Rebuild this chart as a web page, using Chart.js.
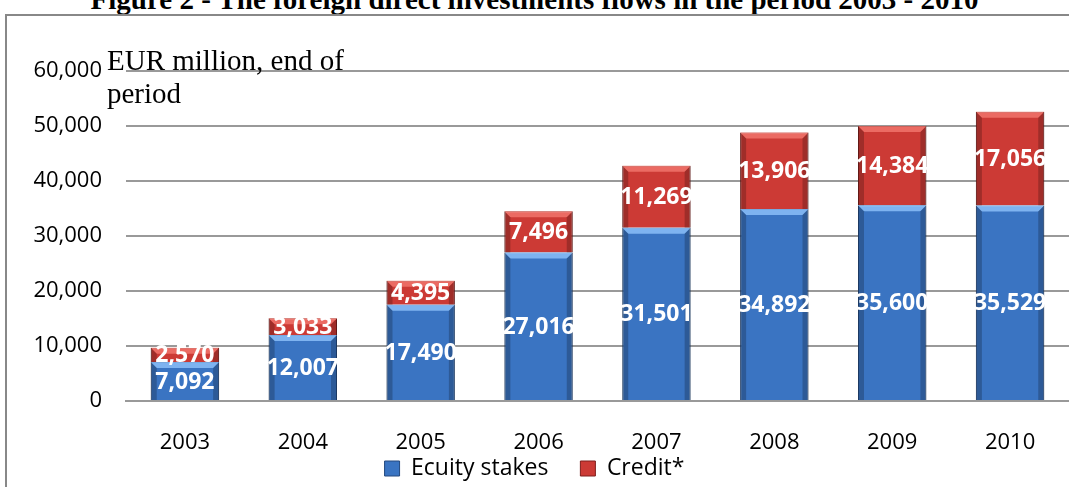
<!DOCTYPE html>
<html>
<head>
<meta charset="utf-8">
<script src="https://cdn.jsdelivr.net/npm/chart.js@4/dist/chart.umd.min.js"></script>
<style>
  body { margin: 0; width: 1069px; height: 487px; overflow: hidden; background: #fff; position: relative; }
  #title { position: absolute; top: -17px; left: 0; width: 1069px; text-align: center;
           font: bold 29px "Liberation Serif", serif; line-height: 32px; color: #000; white-space: nowrap; }
  #frame { position: absolute; left: 5px; top: 14px; width: 1080px; height: 500px;
           border: 2px solid #888; box-sizing: border-box; }
  #unit { position: absolute; left: 107px; top: 44px; font: 29px "Liberation Serif", serif;
          line-height: 33px; color: #000; }
  #wrap { position: absolute; left: 0; top: 0; width: 1069px; height: 487px; }
</style>
</head>
<body>
<div id="title">Figure 2 - The foreign direct investments flows in the period 2003 - 2010</div>
<div id="frame"></div>
<div id="wrap"><canvas id="fdiChart"></canvas></div>
<div id="unit">EUR million, end of<br>period</div>
<script>
const years = ['2003', '2004', '2005', '2006', '2007', '2008', '2009', '2010'];
const equityStakes = [7092, 12007, 17490, 27016, 31501, 34892, 35600, 35529];
const credit = [2570, 3033, 4395, 7496, 11269, 13906, 14384, 17056];
const yTicks = [0, 10000, 20000, 30000, 40000, 50000, 60000];

const fmt = v => v.toLocaleString('en-US');

// bevel look + value labels
const barStyle = {
    id: 'barStyle',
    afterDatasetsDraw(chart) {
        const ctx = chart.ctx;
        chart.data.datasets.forEach((ds, di) => {
            const meta = chart.getDatasetMeta(di);
            meta.data.forEach((bar, i) => {
                const p = bar.getProps(['x', 'y', 'base', 'width'], true);
                const l = p.x - p.width / 2, r = p.x + p.width / 2;
                const t = p.y, b = p.base;
                const e = 6;
                ctx.save();
                ctx.fillStyle = di === 0 ? 'rgba(150,200,255,0.75)' : 'rgba(255,140,130,0.6)';
                ctx.beginPath();
                ctx.moveTo(l, t); ctx.lineTo(r, t); ctx.lineTo(r - e, t + e); ctx.lineTo(l + e, t + e);
                ctx.closePath(); ctx.fill();
                ctx.fillStyle = 'rgba(0,0,0,0.22)';
                ctx.beginPath();
                ctx.moveTo(l, t); ctx.lineTo(l + e, t + e); ctx.lineTo(l + e, b); ctx.lineTo(l, b);
                ctx.closePath(); ctx.fill();
                ctx.beginPath();
                ctx.moveTo(r, t); ctx.lineTo(r - e, t + e); ctx.lineTo(r - e, b); ctx.lineTo(r, b);
                ctx.closePath(); ctx.fill();
                ctx.fillStyle = '#fff';
                ctx.font = 'bold 23px "Open Sans", sans-serif';
                ctx.textAlign = 'center';
                ctx.textBaseline = 'middle';
                ctx.fillText(fmt(ds.data[i]), p.x, (t + b) / 2 + 1);
                ctx.restore();
            });
        });
    }
};

// pull the legend up, closer to the year labels
const legendShift = {
    id: 'legendShift',
    afterLayout(chart) {
        chart.legend.top -= 30;
        chart.legend.bottom -= 30;
    }
};

const ctx = document.getElementById('fdiChart').getContext('2d');
new Chart(ctx, {
    type: 'bar',
    data: {
        labels: years,
        datasets: [{
            label: 'Ecuity stakes',
            data: equityStakes,
            backgroundColor: '#3a74c2',
            borderColor: '#24497e',
            borderWidth: 1,
            categoryPercentage: 1,
            barPercentage: 0.58
        }, {
            label: 'Credit*',
            data: credit,
            backgroundColor: '#cc3a35',
            borderColor: '#7f1f1c',
            borderWidth: 1,
            categoryPercentage: 1,
            barPercentage: 0.58
        }]
    },
    options: {
        responsive: true,
        maintainAspectRatio: false,
        animation: false,
        layout: { padding: { top: 71, right: 0, left: 0, bottom: -33 } },
        scales: {
            x: {
                stacked: true,
                grid: { display: false },
                border: { color: '#999', width: 2 },
                afterFit: scale => { scale.height = 54; },
                ticks: {
                    color: '#000',
                    padding: 21,
                    maxRotation: 0,
                    font: { family: '"Open Sans", sans-serif', size: 22 }
                }
            },
            y: {
                stacked: true,
                min: 0,
                max: 60000,
                afterBuildTicks: scale => { scale.ticks = yTicks.map(v => ({ value: v })); },
                afterFit: scale => { scale.width = 126; },
                grid: { color: '#999', lineWidth: 2, drawTicks: false },
                border: { display: false },
                ticks: {
                    color: '#000',
                    padding: 24,
                    font: { family: '"Open Sans", sans-serif', size: 22 }
                },
            }
        },
        plugins: {
            legend: {
                position: 'bottom',
                labels: {
                    color: '#000',
                    boxWidth: 15,
                    boxHeight: 15,
                    padding: 32,
                    font: { family: '"Open Sans", sans-serif', size: 23 }
                }
            },
            tooltip: { enabled: false }
        }
    },
    plugins: [barStyle, legendShift]
});
</script>
</body>
</html>
